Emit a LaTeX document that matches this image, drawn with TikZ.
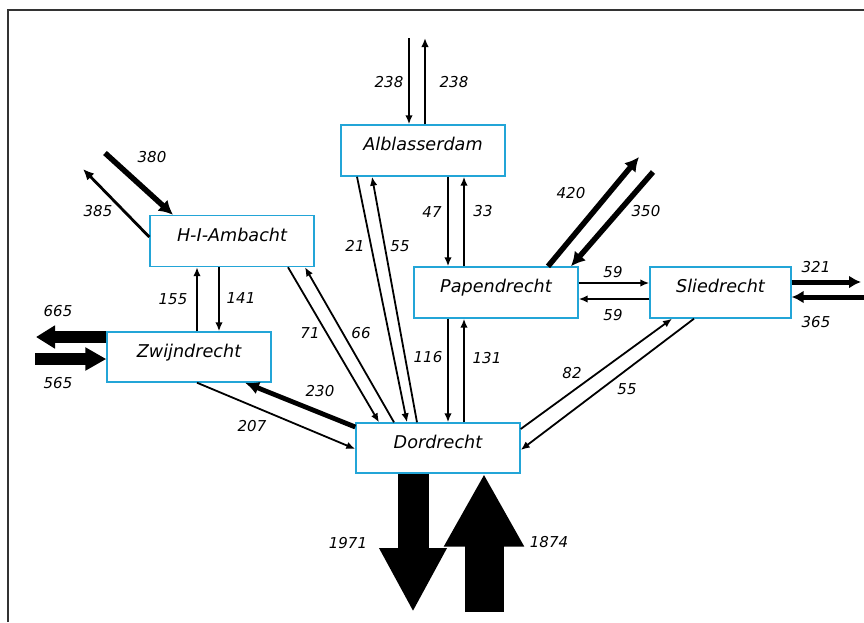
\documentclass[tikz,border=0pt]{standalone}
\usepackage{fontspec}
\setmainfont{DejaVu Sans}
\usetikzlibrary{arrows.meta}
\definecolor{boxblue}{RGB}{35,165,215}

\tikzset{
	place/.style={draw=boxblue, line width=1.4pt, minimum width=164pt, minimum height=51pt, inner sep=0pt, text height=9pt, text depth=9pt, font=\fontsize{17.6}{20}\selectfont\itshape},
	amount/.style={inner sep=0pt, font=\fontsize{15}{17}\selectfont\itshape},
	flow/.style={line width=1.8pt, -{Latex[length=9pt,width=7.5pt]}},
	midflow/.style={line width=2.8pt, -{Latex[length=11pt,width=10pt]}},
	heavyflow/.style={line width=5.5pt, -{Latex[length=14pt,width=15pt]}},
}

\begin{document}
\begin{tikzpicture}[x=1pt, y=-1pt]
		\useasboundingbox (0,0) rectangle (864,622);
		\draw[line width=2pt, black!80] (8,622) -- (8,10) -- (864,10);

		\node[place] (Alb) at (423,150.5) {Alblasserdam};
		\node[place] (Amb) at (232,241) {H-I-Ambacht};
		\node[place] (Pap) at (496,292.5) {Papendrecht};
		\node[place, minimum width=141pt] (Sli) at (720.5,292.5) {Sliedrecht};
		\node[place, minimum height=50pt] (Zwi) at (189,357) {Zwijndrecht};
		\node[place, minimum height=50pt] (Dor) at (438,448) {Dordrecht};

		\coordinate (albin) at (409,38);
		\coordinate (albout) at (425,38);
		\coordinate (ambin) at (105,153);
		\coordinate (ambout) at (83,169);
		\coordinate (zwiout) at (36,337);
		\coordinate (zwiin) at (35,359);
		\coordinate (papout) at (639,157);
		\coordinate (papin) at (653,172);
		\coordinate (sliout) at (861,282);
		\coordinate (sliin) at (864,297);
		\coordinate (dorout) at (413,612);
		\coordinate (dorin) at (484,612);

		\draw[flow] (albin) -- (albin |- Alb.north);
		\draw[flow] (albout |- Alb.north) -- (albout);
		\draw[flow] (Alb.south -| 448,0) -- (Pap.north -| 448,0);
		\draw[flow] (Pap.north -| 464,0) -- (Alb.south -| 464,0);
		\draw[flow] (Alb.south -| 357,0) -- (Dor.north -| 407,0);
		\draw[flow] (Dor.north -| 417,0) -- (Alb.south -| 372,0);

		\draw[flow] (Amb.south -| 288,0) -- (Dor.north -| 379,0);
		\draw[flow] (Dor.north -| 394,0) -- (Amb.south -| 305,0);
		\draw[flow] (Zwi.north -| 197,0) -- (Amb.south -| 197,0);
		\draw[flow] (Amb.south -| 219,0) -- (Zwi.north -| 219,0);
		\draw[heavyflow] (ambin) -- (Amb.north -| 173,0);
		\draw[midflow] (Amb.west |- 0,237) -- (ambout);

		\draw[line width=12pt, -{Triangle[length=19pt,width=22pt]}] (Zwi.west |- 0,337) -- (zwiout);
		\draw[line width=12pt, -{Triangle[length=21pt,width=22pt]}] (zwiin) -- (Zwi.west |- 0,359);
		\draw[flow] (Zwi.south -| 197,0) -- (Dor.west |- 0,449);
		\draw[line width=4.8pt, -{Latex[length=14pt,width=13pt]}] (Dor.west |- 0,427) -- (Zwi.south -| 245,0);

		\draw[flow] (Pap.south -| 448,0) -- (Dor.north -| 448,0);
		\draw[flow] (Dor.north -| 464,0) -- (Pap.south -| 464,0);
		\draw[flow] (Pap.east |- 0,283) -- (Sli.west |- 0,283);
		\draw[flow] (Sli.west |- 0,299) -- (Pap.east |- 0,299);
		\draw[heavyflow] (Pap.north -| 548,0) -- (papout);
		\draw[heavyflow] (papin) -- (Pap.north -| 571,0);

		\draw[line width=5pt, -{Latex[length=12pt,width=13pt]}] (Sli.east |- 0,282) -- (sliout);
		\draw[line width=5pt, -{Latex[length=12pt,width=13pt]}] (sliin) -- (Sli.east |- 0,297);
		\draw[flow] (Dor.east |- 0,429) -- (Sli.south -| 672,0);
		\draw[flow] (Sli.south -| 694,0) -- (Dor.east |- 0,450);

		\draw[line width=31pt, -{Triangle[length=64pt,width=63pt]}] (Dor.south -| dorout) -- (dorout);
		\draw[line width=39pt, -{Triangle[length=73pt,width=75pt]}] (dorin) -- (Dor.south -| dorin);

		\node[amount] (aAlbIn) at (389,82) {238};
		\node[amount] (aAlbOut) at (454,82) {238};
		\node[amount] (aAlbPap) at (432,212) {47};
		\node[amount] (aPapAlb) at (483,211) {33};
		\node[amount] (aAlbDor) at (355,246) {21};
		\node[amount] (aDorAlb) at (400,246) {55};
		\node[amount] (aAmbDor) at (310,333) {71};
		\node[amount] (aDorAmb) at (361,333) {66};
		\node[amount] (aZwiAmb) at (173,299) {155};
		\node[amount] (aAmbZwi) at (241,298) {141};
		\node[amount] (aAmbIn) at (152,157) {380};
		\node[amount] (aAmbOut) at (98,211) {385};
		\node[amount] (aZwiOut) at (58,311) {665};
		\node[amount] (aZwiIn) at (58,383) {565};
		\node[amount] (aDorZwi) at (320,391) {230};
		\node[amount] (aZwiDor) at (252,426) {207};
		\node[amount] (aPapDor) at (428,357) {116};
		\node[amount] (aDorPap) at (487,358) {131};
		\node[amount] (aPapSli) at (613,272) {59};
		\node[amount] (aSliPap) at (613,315) {59};
		\node[amount] (aPapOut) at (571,193) {420};
		\node[amount] (aPapIn) at (646,211) {350};
		\node[amount] (aSliOut) at (816,267) {321};
		\node[amount] (aSliIn) at (816,322) {365};
		\node[amount] (aDorSli) at (572,373) {82};
		\node[amount] (aSliDor) at (627,389) {55};
		\node[amount] (aDorOut) at (348,543) {1971};
		\node[amount] (aDorIn) at (549,542) {1874};
\end{tikzpicture}
\end{document}
